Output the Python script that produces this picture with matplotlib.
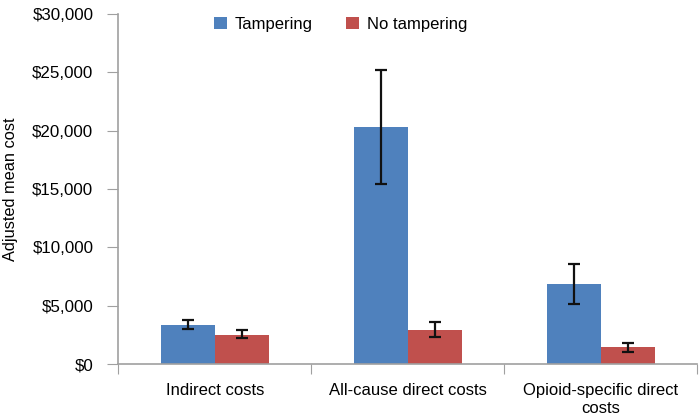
import numpy as np
import matplotlib.pyplot as plt
from matplotlib.ticker import FuncFormatter

plt.rcParams['font.family'] = ['Liberation Sans', 'DejaVu Sans']

categories = ['Indirect costs', 'All-cause direct costs', 'Opioid-specific direct\ncosts']
tampering = [3350, 20340, 6860]
tampering_lo = [3000, 15450, 5120]
tampering_hi = [3770, 25230, 8600]
no_tampering = [2510, 2910, 1460]
no_tampering_lo = [2230, 2310, 1050]
no_tampering_hi = [2890, 3630, 1800]

x = np.arange(len(categories))
w = 0.28

fig = plt.figure(figsize=(7, 4.17), dpi=100)
ax = fig.add_axes([0.169, 0.127, 0.827, 0.839])

err_t = [np.array(tampering) - np.array(tampering_lo), np.array(tampering_hi) - np.array(tampering)]
err_n = [np.array(no_tampering) - np.array(no_tampering_lo), np.array(no_tampering_hi) - np.array(no_tampering)]

ekw = dict(ecolor='#111111', elinewidth=1.6, capsize=4, capthick=1.6)
ax.bar(x - w / 2, tampering, w, color='#4F81BD', label='Tampering', yerr=err_t, error_kw=ekw)
ax.bar(x + w / 2, no_tampering, w, color='#C0504D', label='No tampering', yerr=err_n, error_kw=ekw)

ax.set_xlim(-0.5, 2.5)
ax.set_ylim(0, 30000)
ax.set_yticks(np.arange(0, 30001, 5000))
ax.yaxis.set_major_formatter(FuncFormatter(lambda v, p: '${:,.0f}'.format(v)))
ax.set_xticks([-0.5, 0.5, 1.5, 2.5])
ax.set_xticklabels([])
ax.set_xticks(x, minor=True)
ax.set_xticklabels(categories, minor=True, fontsize=12, linespacing=1.2)
ax.tick_params(axis='x', which='minor', length=0, pad=14)
ax.tick_params(axis='x', which='major', length=7, color='#a0a0a0', direction='out')
ax.tick_params(axis='y', length=8, color='#a0a0a0', labelsize=12.2, pad=10)

for s in ['top', 'right']:
    ax.spines[s].set_visible(False)
for s in ['left', 'bottom']:
    ax.spines[s].set_color('#a0a0a0')
    ax.spines[s].set_linewidth(1.2)

ax.set_ylabel('Adjusted mean cost', fontsize=11.8)
ax.yaxis.set_label_coords(-0.174, 0.5)

fig.legend(loc='upper center', bbox_to_anchor=(0.487, 0.995), ncol=2, frameon=False,
           fontsize=12, handlelength=0.75, handleheight=0.75, columnspacing=2.0, handletextpad=0.5)

fig.savefig('out.png', dpi=100)
